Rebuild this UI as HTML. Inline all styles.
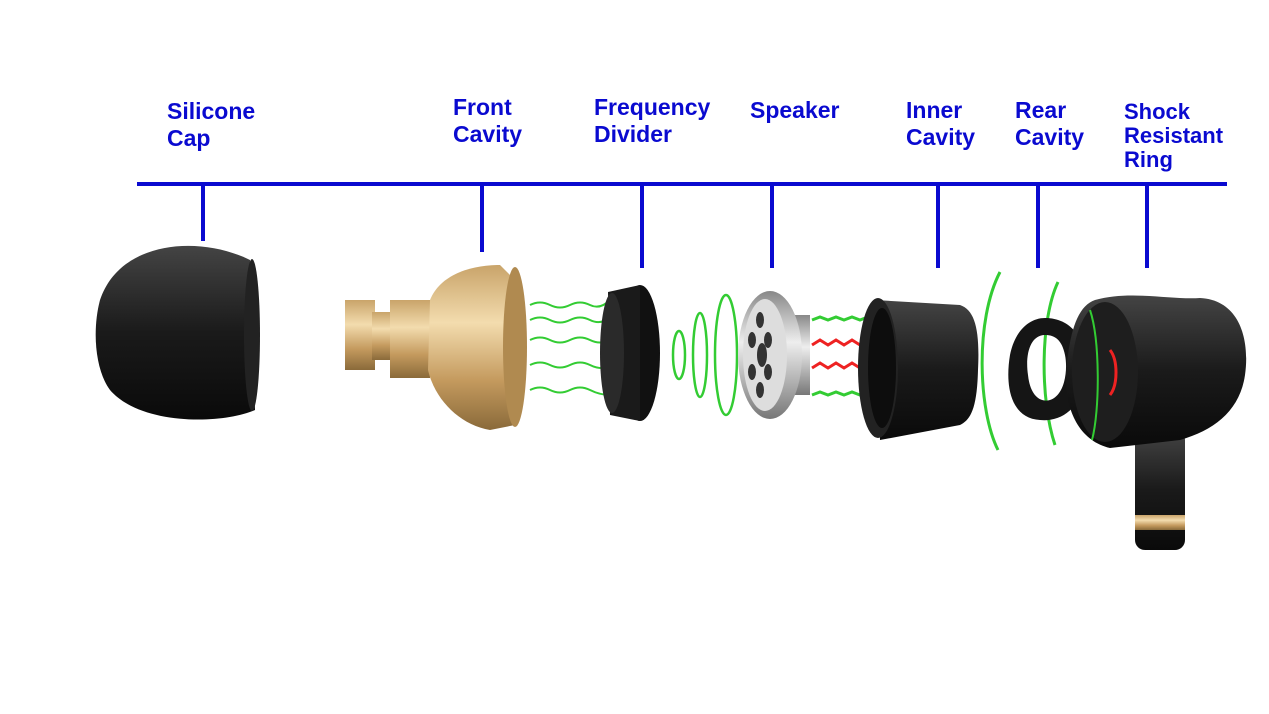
<!DOCTYPE html>
<html><head><meta charset="utf-8"><style>
html,body{margin:0;padding:0;background:#fff;}
body{width:1269px;height:714px;overflow:hidden;position:relative;font-family:"Liberation Sans",sans-serif;}
.l{position:absolute;color:#0a0ad0;font-weight:bold;font-size:23px;line-height:27px;}
</style></head><body>
<div class="l" style="left:167px;top:98px">Silicone<br>Cap</div>
<div class="l" style="left:453px;top:94px">Front<br>Cavity</div>
<div class="l" style="left:594px;top:94px">Frequency<br>Divider</div>
<div class="l" style="left:750px;top:97px">Speaker</div>
<div class="l" style="left:906px;top:97px">Inner<br>Cavity</div>
<div class="l" style="left:1015px;top:97px">Rear<br>Cavity</div>
<div class="l" style="left:1124px;top:100px;line-height:24px;font-size:22px">Shock<br>Resistant<br>Ring</div>
<svg width="1269" height="714" style="position:absolute;left:0;top:0">
<defs>
<linearGradient id="blk" x1="0" y1="0" x2="0" y2="1"><stop offset="0" stop-color="#444"/><stop offset=".5" stop-color="#1a1a1a"/><stop offset="1" stop-color="#0a0a0a"/></linearGradient>
<linearGradient id="gold" x1="0" y1="0" x2="0" y2="1"><stop offset="0" stop-color="#c9a46a"/><stop offset=".35" stop-color="#f3dcae"/><stop offset=".7" stop-color="#c49a5e"/><stop offset="1" stop-color="#8a6a3a"/></linearGradient>
<linearGradient id="silv" x1="0" y1="0" x2="0" y2="1"><stop offset="0" stop-color="#888"/><stop offset=".4" stop-color="#eee"/><stop offset="1" stop-color="#777"/></linearGradient>
</defs>
<g stroke="#0a0ad0" stroke-width="4">
<line x1="137" y1="184" x2="1227" y2="184"/>
<line x1="203" y1="184" x2="203" y2="241"/>
<line x1="482" y1="184" x2="482" y2="252"/>
<line x1="642" y1="184" x2="642" y2="268"/>
<line x1="772" y1="184" x2="772" y2="268"/>
<line x1="938" y1="184" x2="938" y2="268"/>
<line x1="1038" y1="184" x2="1038" y2="268"/>
<line x1="1147" y1="184" x2="1147" y2="268"/>
</g>
<path d="M250 260 C200 235 120 240 100 300 C92 330 95 370 110 390 C140 425 220 425 255 410 Z" fill="url(#blk)"/>
<ellipse cx="252" cy="335" rx="8" ry="76" fill="#222"/>
<rect x="345" y="300" width="30" height="70" fill="url(#gold)"/>
<rect x="372" y="312" width="20" height="48" fill="url(#gold)"/>
<rect x="390" y="300" width="40" height="78" fill="url(#gold)"/>
<path d="M430 300 C440 275 470 265 500 265 L510 275 L515 425 L490 430 C460 425 435 400 428 370 Z" fill="url(#gold)"/>
<ellipse cx="515" cy="347" rx="12" ry="80" fill="#b08a50"/>
<g stroke="#3c3" stroke-width="2" fill="none">
<path d="M530 305 q10 -5 20 0 t20 0 t20 0 t20 -5 t20 -5"/>
<path d="M530 320 q10 -5 20 0 t20 0 t20 0 t20 -2"/>
<path d="M530 340 q10 -5 20 0 t20 0 t20 0 t20 0"/>
<path d="M530 365 q10 -5 20 0 t20 0 t20 0 t20 2"/>
<path d="M530 390 q10 -5 20 0 t20 0 t20 0 t20 5 t15 5"/>
</g>
<ellipse cx="640" cy="353" rx="20" ry="68" fill="#111"/>
<path d="M608 292 L640 285 L640 421 L610 415 Z" fill="#1a1a1a"/>
<ellipse cx="612" cy="353" rx="12" ry="60" fill="#2a2a2a"/>
<g stroke="#3c3" stroke-width="2.5" fill="none">
<ellipse cx="679" cy="355" rx="6" ry="24"/>
<ellipse cx="700" cy="355" rx="7" ry="42"/>
<ellipse cx="726" cy="355" rx="11" ry="60"/>
</g>
<rect x="785" y="315" width="25" height="80" fill="url(#silv)"/>
<ellipse cx="770" cy="355" rx="32" ry="64" fill="url(#silv)"/>
<ellipse cx="765" cy="355" rx="22" ry="56" fill="#ddd"/>
<g fill="#333"><ellipse cx="760" cy="320" rx="4" ry="8"/><ellipse cx="760" cy="390" rx="4" ry="8"/><ellipse cx="752" cy="340" rx="4" ry="8"/><ellipse cx="752" cy="372" rx="4" ry="8"/><ellipse cx="768" cy="340" rx="4" ry="8"/><ellipse cx="768" cy="372" rx="4" ry="8"/><ellipse cx="762" cy="355" rx="5" ry="12"/></g>
<g stroke-width="3" fill="none">
<path d="M812 320 l8 -3 8 3 8 -3 8 3 8 -3 8 3 8 -3 8 3 8 -3 8 3" stroke="#3c3"/>
<path d="M812 345 l8 -5 8 5 8 -5 8 5 8 -5 8 5 8 -5 8 5 8 -5 8 5" stroke="#e22"/>
<path d="M812 368 l8 -5 8 5 8 -5 8 5 8 -5 8 5 8 -5 8 5 8 -5 8 5" stroke="#e22"/>
<path d="M812 395 l8 -3 8 3 8 -3 8 3 8 -3 8 3 8 -3 8 3 8 -3 8 3" stroke="#3c3"/>
</g>
<path d="M875 300 L960 305 C975 310 980 330 978 370 C977 410 970 420 960 425 L880 440 Z" fill="url(#blk)"/>
<ellipse cx="878" cy="368" rx="20" ry="70" fill="#222"/>
<ellipse cx="882" cy="368" rx="14" ry="60" fill="#0d0d0d"/>
<g fill="none" stroke-width="3">
<path d="M1000 272 C975 320 978 410 998 450" stroke="#3c3"/>
<path d="M1058 282 C1040 320 1040 400 1055 445" stroke="#3c3"/>
<path d="M1030 330 C1010 350 1012 390 1030 410" stroke="#e22" stroke-width="5"/>
<path d="M1068 340 C1082 360 1082 390 1068 405" stroke="#e22" stroke-width="4"/>
</g>
<path d="M1045 318 C1075 318 1090 345 1085 380 C1080 410 1060 422 1040 420 C1010 418 1005 385 1010 355 C1015 330 1030 318 1045 318 Z M1045 335 C1030 335 1025 355 1028 375 C1030 395 1040 403 1050 400 C1065 395 1068 370 1065 355 C1062 340 1055 335 1045 335 Z" fill="#151515" fill-rule="evenodd"/>
<rect x="1135" y="430" width="50" height="120" rx="10" fill="url(#blk)"/>
<rect x="1135" y="515" width="50" height="15" fill="url(#gold)"/>
<path d="M1095 300 C1130 290 1170 300 1200 298 C1240 300 1250 340 1245 375 C1240 410 1215 430 1180 440 L1110 448 C1075 440 1060 400 1068 355 C1072 325 1080 305 1095 300 Z" fill="url(#blk)"/>
<ellipse cx="1105" cy="372" rx="33" ry="70" fill="#1e1e1e"/>
<path d="M1110 350 C1118 360 1118 385 1110 395" stroke="#e22" stroke-width="3" fill="none"/>
<path d="M1090 310 C1100 340 1100 410 1092 440" stroke="#3c3" stroke-width="2" fill="none"/>
</svg>
</body></html>
